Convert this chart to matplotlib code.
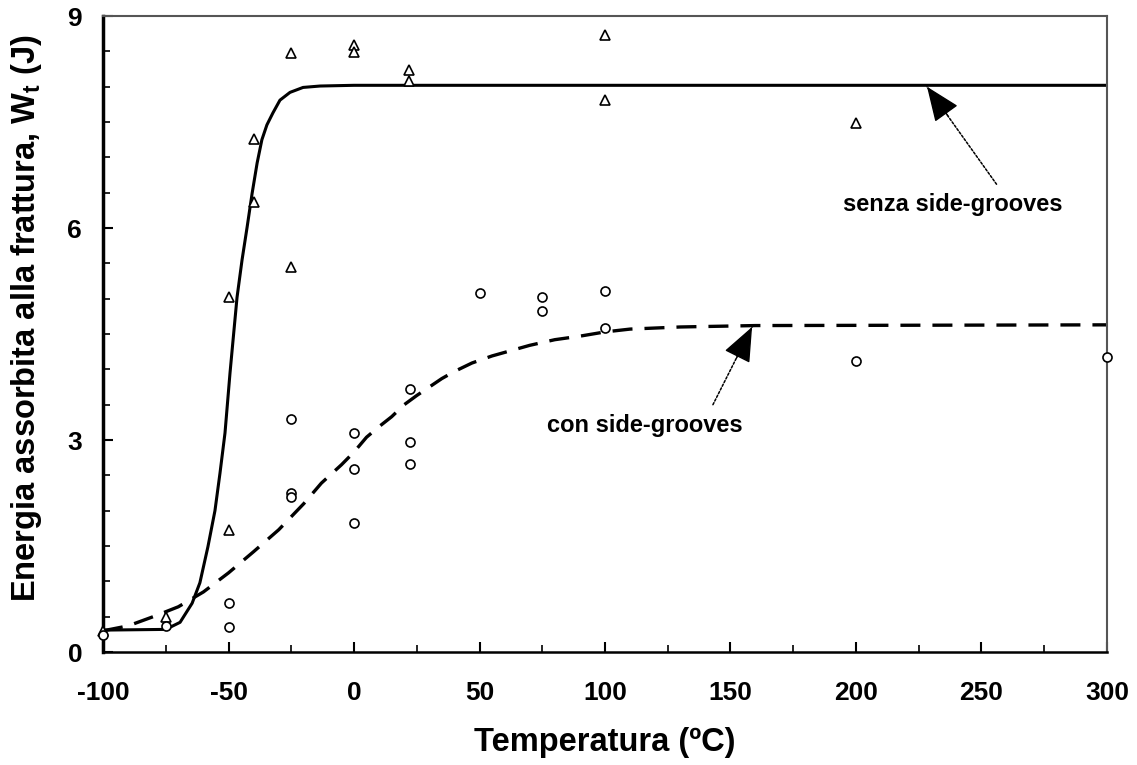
import matplotlib
matplotlib.use("Agg")
import matplotlib.pyplot as plt
from matplotlib.ticker import MultipleLocator

plt.rcParams['font.family'] = ['Liberation Sans', 'DejaVu Sans']
plt.rcParams['font.weight'] = 'bold'
plt.rcParams['axes.unicode_minus'] = False
plt.rcParams['mathtext.fontset'] = 'custom'
plt.rcParams['mathtext.rm'] = 'Liberation Sans:bold'
plt.rcParams['mathtext.bf'] = 'Liberation Sans:bold'
plt.rcParams['mathtext.it'] = 'Liberation Sans:bold'

# --- data: senza side-grooves (triangles) ---
senza_T = [-100, -75, -50, -50, -40, -40, -25, -25, 0, 0, 22, 22, 100, 100, 200]
senza_W = [0.30, 0.50, 5.02, 1.73, 7.26, 6.37, 8.48, 5.45, 8.59, 8.49, 8.24, 8.08, 8.73, 7.81, 7.49]

# --- data: con side-grooves (circles) ---
con_T = [-100, -75, -50, -50, -25, -25, -25, 0, 0, 0, 22.5, 22.5, 22.5, 50, 75, 75, 100, 100, 200, 300]
con_W = [0.24, 0.37, 0.69, 0.35, 3.30, 2.25, 2.20, 3.10, 2.59, 1.83, 3.72, 2.97, 2.66, 5.08, 5.03, 4.83, 5.11, 4.58, 4.12, 4.17]

# --- fitted curve, senza side-grooves ---
fit_senza_T = [-100, -75, -69.3, -64.5, -61.4, -58.2, -55.4, -53.4, -51.4, -49.4, -48.2, -46.6,
               -44.6, -42.6, -40.6, -38.6, -36.7, -34.7, -32.3, -29.5, -25.5, -20.3, -13.5, 0, 300]
fit_senza_W = [0.31, 0.32, 0.42, 0.69, 0.98, 1.49, 2.00, 2.53, 3.10, 3.95, 4.41, 5.02,
               5.55, 6.01, 6.49, 6.92, 7.25, 7.46, 7.63, 7.81, 7.92, 7.99, 8.01, 8.02, 8.02]

# --- fitted curve, con side-grooves ---
fit_con_T = [-100, -90, -80, -70, -60, -50, -40, -30, -20, -13, -5, 0, 5, 10, 15, 20, 25, 30, 35,
             40, 47, 55, 63, 70, 80, 90, 100, 110, 130, 160, 300]
fit_con_W = [0.30, 0.37, 0.50, 0.64, 0.85, 1.12, 1.42, 1.73, 2.10, 2.39, 2.65, 2.83, 3.04, 3.19, 3.33,
             3.50, 3.63, 3.75, 3.87, 3.97, 4.09, 4.19, 4.27, 4.34, 4.42, 4.47, 4.53, 4.57, 4.60, 4.62, 4.63]

x_ticks = [-100, -50, 0, 50, 100, 150, 200, 250, 300]
y_ticks = [0, 3, 6, 9]

fig = plt.figure(figsize=(11.37, 7.65), dpi=100)
ax = fig.add_axes([0.0906, 0.1477, 0.8830, 0.8313])

ax.plot(fit_senza_T, fit_senza_W, color='black', lw=2.2, solid_capstyle='butt', zorder=2)
ax.plot(fit_con_T, fit_con_W, color='black', lw=2.4, ls=(0, (6, 3.6)), zorder=2)

ax.plot(senza_T, senza_W, ls='none', marker='^', ms=7.5, mfc='white', mec='black', mew=1.2, zorder=3,
        clip_on=False)
ax.plot(con_T, con_W, ls='none', marker='o', ms=6.5, mfc='white', mec='black', mew=1.2, zorder=3,
        clip_on=False)

ax.set_xlim(-100, 300)
ax.set_ylim(0, 9)
ax.set_xticks(x_ticks)
ax.set_yticks(y_ticks)
ax.xaxis.set_minor_locator(MultipleLocator(25))
ax.yaxis.set_minor_locator(MultipleLocator(0.5))
ax.tick_params(axis='both', which='both', direction='in', top=False, right=False)
ax.tick_params(axis='both', which='major', length=7, width=1.5, labelsize=19)
ax.tick_params(axis='both', which='minor', length=5, width=1.2)
ax.tick_params(axis='x', which='major', pad=21)
ax.tick_params(axis='y', which='major', pad=15)
for lab in ax.get_xticklabels() + ax.get_yticklabels():
    lab.set_fontweight('bold')

ax.spines['left'].set_linewidth(2.5)
ax.spines['bottom'].set_linewidth(1.8)
ax.spines['top'].set_linewidth(1.5)
ax.spines['right'].set_linewidth(1.5)
ax.spines['top'].set_color('#555555')
ax.spines['right'].set_color('#555555')

ax.set_xlabel('Temperatura (ºC)', fontsize=23.5, fontweight='bold', labelpad=16)
ax.set_ylabel(r'Energia assorbita alla frattura, W$_{\mathrm{t}}$ (J)', fontsize=23.5,
              fontweight='bold', labelpad=10)
ax.yaxis.set_label_coords(-0.059, 0.525)

shaft_kw = dict(arrowstyle='-', color='black', lw=1.1, ls=(0, (1.5, 1.2)), shrinkA=0, shrinkB=0)
head_kw = dict(arrowstyle='-|>,head_length=1.1,head_width=0.45', color='black', lw=1.0,
               mutation_scale=20, shrinkA=0, shrinkB=0)

ax.annotate('', xy=(228.3, 8.0), xytext=(256, 6.62), arrowprops=shaft_kw)
ax.annotate('', xy=(228.3, 8.0), xytext=(236.6, 7.59), arrowprops=head_kw)
ax.text(238.6, 6.33, 'senza side-grooves', fontsize=17, fontweight='bold', ha='center', va='center')

ax.annotate('', xy=(158.6, 4.6), xytext=(143, 3.5), arrowprops=shaft_kw)
ax.annotate('', xy=(158.6, 4.6), xytext=(152.4, 4.16), arrowprops=head_kw)
ax.text(116, 3.21, 'con side-grooves', fontsize=17, fontweight='bold', ha='center', va='center')

fig.savefig('out.png', dpi=100, facecolor='white')
